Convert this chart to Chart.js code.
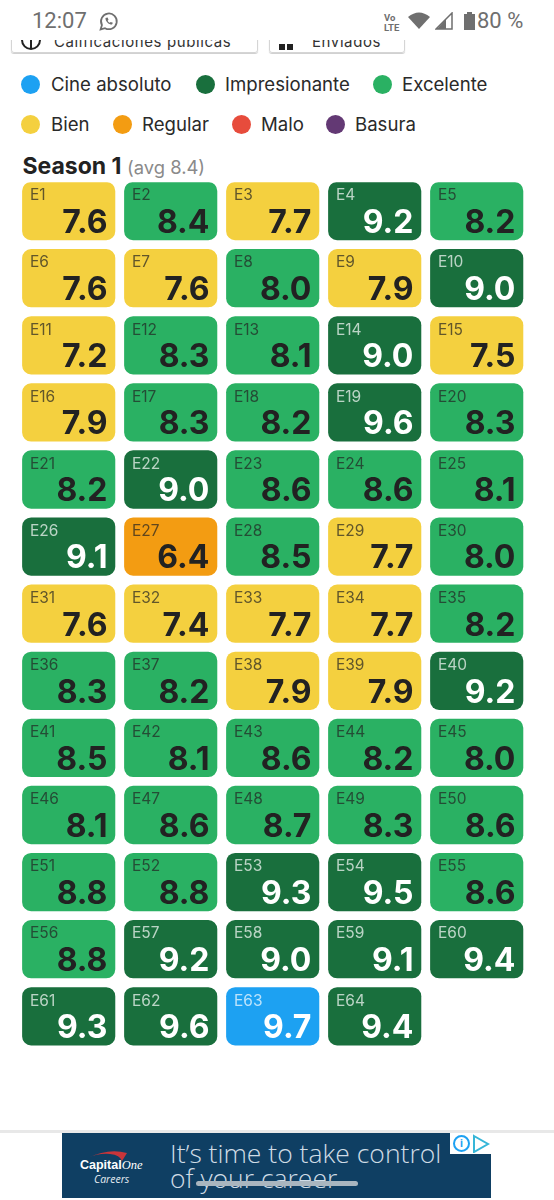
<!DOCTYPE html>
<html lang="es">
<head>
    <meta charset="UTF-8">
    <title>Season 1</title>
    <script src="https://cdn.jsdelivr.net/npm/chart.js"></script>
    <style>
        html, body { margin: 0; padding: 0; background: #fff; }
        body { width: 554px; height: 1200px; position: relative; overflow: hidden; font-family: Inter, sans-serif; color: #222; }
        .abs { position: absolute; white-space: nowrap; }
        .status { font-family: Roboto, sans-serif; color: #6f6f6f; font-size: 22px; line-height: 26px; }
        .clip { position: absolute; left: 0; top: 40px; width: 554px; height: 14px; overflow: hidden; }
        .btn { position: absolute; top: -30px; height: 41px; border: 1px solid #d5d5d5; border-radius: 3px; box-shadow: 0 1px 1px #ccc; font-size: 15px; letter-spacing: .6px; color: #333; line-height: 62px; white-space: nowrap; }
        .dot { position: absolute; width: 19px; height: 19px; border-radius: 50%; }
        .leg { position: absolute; font-size: 18.6px; line-height: 22px; white-space: nowrap; color: #2a2a2a; }
        #wrap { position: absolute; left: 0; top: 182px; width: 554px; height: 873px; }
        #ad { position: absolute; left: 62px; top: 1133px; width: 429px; height: 65px; background: #0f3f63; overflow: hidden; color: #cfdce6; }
    </style>
</head>
<body>
    <!-- barra de estado -->
    <div class="abs status" style="left:32px;top:8px">12:07</div>
    <svg class="abs" style="left:98px;top:11px" width="21" height="21" viewBox="0 0 24 24" fill="none" stroke="#6f6f6f" stroke-width="2"><path d="M3 21l1.5-5A9 9 0 1 1 8 19.6z"/><path d="M8.500 8c0 4 3.500 7.500 7.500 7.500l1-2-2.500-1-1 1c-1-.5-2-1.500-2.500-2.500l1-1-1-2.500z" fill="#6f6f6f" stroke="none"/></svg>
    <div class="abs" style="left:384px;top:13px;font:bold 9.500px/10px Roboto,sans-serif;color:#6f6f6f">Vo<br>LTE</div>
    <svg class="abs" style="left:408px;top:12px" width="22" height="17" viewBox="0 0 22 17"><path d="M0 5Q11-4 22 5L11 17z" fill="#6f6f6f"/></svg>
    <svg class="abs" style="left:435px;top:12px" width="18" height="18" viewBox="0 0 18 18"><path d="M17 1V17H1z" fill="none" stroke="#6f6f6f" stroke-width="1.500"/><path d="M11 7V17H2z" fill="#6f6f6f"/></svg>
    <svg class="abs" style="left:464px;top:12px" width="11" height="18" viewBox="0 0 11 18"><path d="M3 0h5v2h3v16H0V2h3z" fill="#6f6f6f"/></svg>
    <div class="abs status" style="left:477px;top:8px">80 %</div>

    <!-- filtros cortados por la barra -->
    <div class="clip">
        <div class="btn" style="left:11px;width:245px"><span style="margin-left:42px">Calificaciones públicas</span></div>
        <div class="btn" style="left:269px;width:134px"><span style="margin-left:42px">Enviados</span></div>
        <div style="position:absolute;left:279px;top:4px;width:6px;height:6px;background:#222"></div>
        <div style="position:absolute;left:287px;top:4px;width:6px;height:6px;background:#222"></div>
    </div>
    <svg class="abs" style="left:20px;top:40px" width="22" height="10" viewBox="0 0 22 10" fill="none" stroke="#222" stroke-width="2"><path d="M2 0A9 9 0 0 0 20 0M11 0V9"/></svg>

    <div id="legend"></div>

    <div class="abs" style="left:22.500px;top:152px;font-size:23px;line-height:28px;font-weight:700;color:#222">Season 1 <span style="font-size:18.400px;font-weight:400;color:#8a8a8a">(avg 8.4)</span></div>

    <div id="wrap"><canvas id="grid"></canvas></div>

    <!-- anuncio -->
    <div class="abs" style="left:0;top:1130px;width:554px;height:3px;background:#e8e8e8"></div>
    <div id="ad">
        <svg class="abs" style="left:24px;top:17px" width="42" height="12" viewBox="0 0 42 12"><path d="M2 8Q22-2 41 3L36 11Q34 5 24 4Q12 3 2 8z" fill="#c8353a"/></svg>
        <div class="abs" style="left:18px;top:25px;font:bold 12.500px/14px 'Liberation Sans',sans-serif;color:#fff">Capital<span style="font:italic 12.500px 'Liberation Serif',serif">One</span></div>
        <div class="abs" style="left:32px;top:39px;font:italic 10.500px/14px 'Open Sans',sans-serif;color:#e4ecf2">Careers</div>
        <div class="abs" style="left:108px;top:8px;font:300 26.500px/25px 'Open Sans',sans-serif">It’s time to take control<br>of your career</div>
        <div class="abs" style="left:134px;top:48px;width:162px;height:5px;border-radius:3px;background:#a9b6bf"></div>
        <div class="abs" style="left:388px;top:0;width:41px;height:21px;background:#fff"></div>
        <div class="abs" style="left:391px;top:2px;width:13px;height:13px;border:2px solid #1da1f2;border-radius:50%;color:#1da1f2;font:bold 11px/13px Roboto,sans-serif;text-align:center">i</div>
        <svg class="abs" style="left:410px;top:1px" width="18" height="19" viewBox="0 0 18 19"><path d="M2 2L16 10 2 18z" fill="none" stroke="#36b6d8" stroke-width="2"/></svg>
    </div>

    <script>
        const ratings = [
            7.6, 8.4, 7.7, 9.2, 8.2,
            7.6, 7.6, 8.0, 7.9, 9.0,
            7.2, 8.3, 8.1, 9.0, 7.5,
            7.9, 8.3, 8.2, 9.6, 8.3,
            8.2, 9.0, 8.6, 8.6, 8.1,
            9.1, 6.4, 8.5, 7.7, 8.0,
            7.6, 7.4, 7.7, 7.7, 8.2,
            8.3, 8.2, 7.9, 7.9, 9.2,
            8.5, 8.1, 8.6, 8.2, 8.0,
            8.1, 8.6, 8.7, 8.3, 8.6,
            8.8, 8.8, 9.3, 9.5, 8.6,
            8.8, 9.2, 9.0, 9.1, 9.4,
            9.3, 9.6, 9.7, 9.4
        ];
        const episodes = ratings.map((_, i) => `E${i + 1}`);
        const columns = ['1', '2', '3', '4', '5'];
        const bandNames = ['Cine absoluto', 'Impresionante', 'Excelente', 'Bien', 'Regular', 'Malo', 'Basura'];
        const bandColors = ['#1DA1F2', '#196F3D', '#2AB163', '#F4D03F', '#F39C12', '#E74C3C', '#633974'];
        const bandMins = [9.7, 9.0, 8.0, 7.0, 6.0, 5.0, 0];

        const perRow = columns.length;
        const rowCount = Math.ceil(ratings.length / perRow);
        const cellFill = 57.6 / 67.1;

        function band(v) {
            return bandMins.findIndex(m => v >= m);
        }

        // Leyenda
        const legendPos = [[21, 85, 51], [196, 85, 225], [373, 85, 402], [21, 125, 51], [113, 125, 142], [232, 125, 261], [326, 125, 355]];
        document.getElementById('legend').innerHTML = bandNames.map((name, i) => {
            const [dx, y, tx] = legendPos[i];
            return `<div class="dot" style="left:${dx}px;top:${y - 10}px;background:${bandColors[i]}"></div>` +
                   `<div class="leg" style="left:${tx}px;top:${y - 12}px">${name}</div>`;
        }).join('');

        // Textos de cada celda
        const cellLabels = {
            id: 'cellLabels',
            afterDatasetsDraw(chart) {
                const ctx = chart.ctx;
                chart.getDatasetMeta(0).data.forEach((bar, i) => {
                    const light = band(ratings[i]) <= 1;
                    const left = bar.x - bar.width / 2;
                    const right = bar.x + bar.width / 2;
                    const top = Math.min(bar.base, bar.y);
                    const bottom = Math.max(bar.base, bar.y);
                    ctx.save();
                    ctx.textBaseline = 'alphabetic';
                    ctx.textAlign = 'left';
                    ctx.font = '15.5px Inter, sans-serif';
                    ctx.fillStyle = light ? 'rgba(255,255,255,.7)' : 'rgba(34,34,34,.7)';
                    ctx.fillText(episodes[i], left + 7.5, top + 18);
                    ctx.textAlign = 'right';
                    ctx.font = 'bold 32px Inter, sans-serif';
                    ctx.fillStyle = light ? '#fff' : '#222';
                    ctx.fillText(ratings[i].toFixed(1), right - 7.5, bottom - 7);
                    ctx.restore();
                });
            }
        };

        new Chart(document.getElementById('grid'), {
            type: 'bar',
            data: {
                labels: columns,
                datasets: [{
                    data: ratings.map((_, i) => {
                        const row = Math.floor(i / perRow);
                        return { x: columns[i % perRow], y: [row, row + cellFill] };
                    }),
                    backgroundColor: ratings.map(v => bandColors[band(v)]),
                    borderRadius: 9,
                    borderSkipped: false,
                    barThickness: 92.5
                }]
            },
            options: {
                responsive: true,
                maintainAspectRatio: false,
                animation: false,
                layout: { padding: { left: 17.7, right: 26.3, top: 0.3, bottom: 0.4 } },
                plugins: { legend: { display: false }, tooltip: { enabled: false } },
                scales: {
                    x: { type: 'category', display: false },
                    y: { type: 'linear', display: false, reverse: true, min: 0, max: rowCount }
                }
            },
            plugins: [cellLabels]
        });
    </script>
</body>
</html>
